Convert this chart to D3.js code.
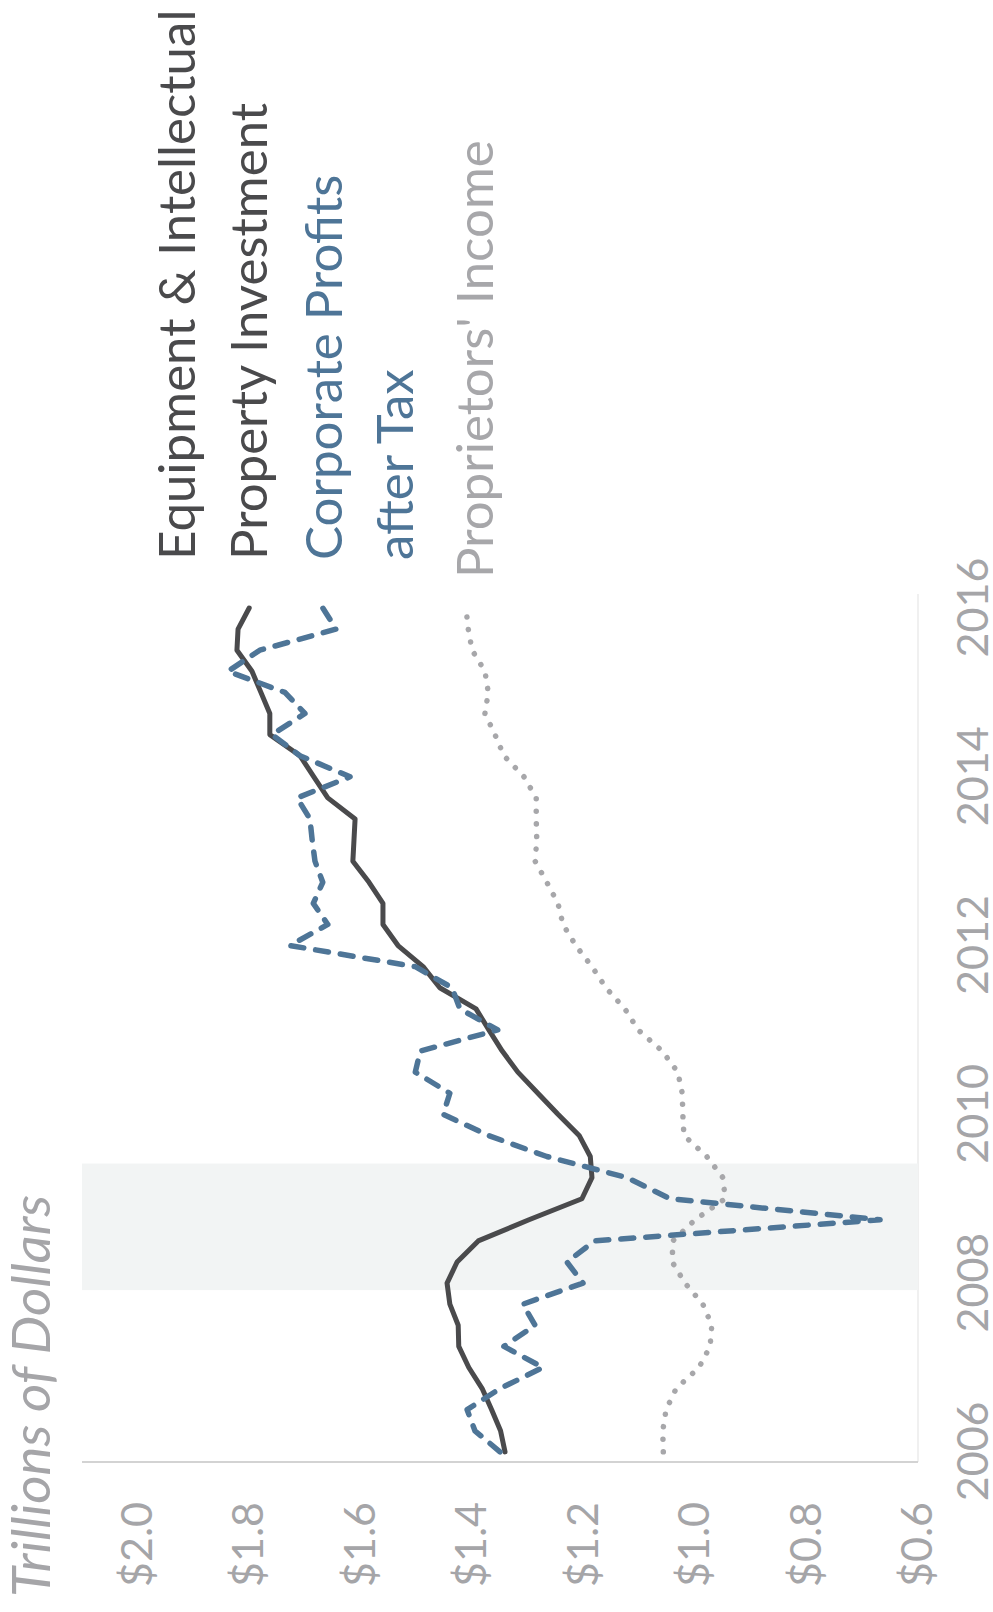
<!DOCTYPE html>
<html>
<head>
<meta charset="utf-8">
<script src="https://cdn.jsdelivr.net/npm/d3@7"></script>
<style>
  html, body { margin: 0; padding: 0; background: #ffffff; }
  svg { display: block; }
  text { font-family: Lato, "Open Sans", sans-serif; }
</style>
</head>
<body>
<script>
// Quarterly series, 2006Q1 through 2016Q1, trillions of dollars
const startYear = 2006;
const equipmentIP = [1.341, 1.349, 1.365, 1.382, 1.406, 1.424, 1.425, 1.440, 1.445, 1.427,
  1.389, 1.298, 1.203, 1.185, 1.188, 1.208, 1.246, 1.282, 1.318, 1.346,
  1.370, 1.393, 1.458, 1.488, 1.533, 1.560, 1.560, 1.585, 1.614, 1.612,
  1.610, 1.659, 1.684, 1.709, 1.763, 1.763, 1.779, 1.795, 1.822, 1.820, 1.800];
const corporateProfits = [1.350, 1.395, 1.409, 1.350, 1.273, 1.343, 1.287, 1.309, 1.201, 1.230,
  1.180, 0.668, 1.045, 1.122, 1.266, 1.371, 1.452, 1.440, 1.502, 1.493,
  1.354, 1.422, 1.436, 1.502, 1.727, 1.659, 1.685, 1.668, 1.682, 1.687,
  1.691, 1.714, 1.619, 1.709, 1.759, 1.700, 1.736, 1.838, 1.781, 1.644, 1.668];
const proprietorsIncome = [1.057, 1.058, 1.052, 1.034, 0.993, 0.973, 0.970, 0.986, 1.018, 1.041,
  1.040, 1.000, 0.946, 0.950, 0.979, 1.020, 1.022, 1.023, 1.031, 1.059,
  1.102, 1.126, 1.160, 1.185, 1.214, 1.237, 1.246, 1.266, 1.287, 1.284,
  1.285, 1.285, 1.307, 1.343, 1.359, 1.377, 1.371, 1.377, 1.400, 1.407, 1.411];

const yearTicks = [2006, 2008, 2010, 2012, 2014, 2016];
const valueTicks = [0.6, 0.8, 1.0, 1.2, 1.4, 1.6, 1.8, 2.0];
const recession = [2007.917, 2009.417];   // Dec 2007 - Jun 2009

const seriesNames = [
  ["Equipment & Intellectual", "Property Investment"],
  ["Corporate Profits", "after Tax"],
  ["Proprietors' Income"]
];

const pageW = 993, pageH = 1612;

const svg = d3.select("body").append("svg")
  .attr("width", pageW).attr("height", pageH);

// The chart is laid out in a landscape frame and turned a quarter-turn counter-clockwise.
const g = svg.append("g")
  .attr("transform", `translate(0,${pageH}) rotate(-90)`);

const x = d3.scaleLinear().domain([2005.88, 2016.166]).range([150, 1018]);
const y = d3.scaleLinear().domain([0.6, 2.1]).range([918, 82]);

const quarterOf = i => startYear + i / 4;
const toPoints = arr => arr.map((v, i) => ({ t: quarterOf(i), v }));

// plot frame lines
g.append("line")
  .attr("x1", x.range()[0]).attr("x2", x.range()[1])
  .attr("y1", y(0.6)).attr("y2", y(0.6))
  .attr("stroke", "#ebebeb").attr("stroke-width", 1.5);

// recession shading
g.append("rect")
  .attr("x", x(recession[0]))
  .attr("width", x(recession[1]) - x(recession[0]))
  .attr("y", y.range()[1])
  .attr("height", y.range()[0] - y.range()[1])
  .attr("fill", "#f2f4f4");

g.append("line")
  .attr("x1", x.range()[0]).attr("x2", x.range()[0])
  .attr("y1", y.range()[1]).attr("y2", y.range()[0])
  .attr("stroke", "#d3d3d3").attr("stroke-width", 2);

// axes
const tickColor = "#a5a5a8";
const xAxis = g.append("g")
  .attr("transform", `translate(0,${y(0.6)})`)
  .call(d3.axisBottom(x).tickValues(yearTicks).tickFormat(d3.format("d"))
    .tickSize(0).tickPadding(39));
const yAxis = g.append("g")
  .attr("transform", `translate(${x.range()[0]},0)`)
  .call(d3.axisLeft(y).tickValues(valueTicks)
    .tickFormat(d => "$" + d3.format(".1f")(d))
    .tickSize(0).tickPadding(40));
[xAxis, yAxis].forEach(a => {
  a.select(".domain").remove();
  a.selectAll("text")
    .attr("fill", tickColor)
    .style("font-family", "Lato, 'Open Sans', sans-serif")
    .style("font-size", "43px");
});

// title
g.append("text")
  .attr("x", 15).attr("y", 50)
  .attr("fill", tickColor)
  .attr("textLength", 402)
  .attr("lengthAdjust", "spacingAndGlyphs")
  .style("font-size", "52px")
  .style("font-style", "italic")
  .text("Trillions of Dollars");

// series lines
const line = d3.line().x(d => x(d.t)).y(d => y(d.v));

g.append("path")
  .datum(toPoints(proprietorsIncome))
  .attr("d", line)
  .attr("fill", "none")
  .attr("stroke", "#a7a7aa")
  .attr("stroke-width", 5.5)
  .attr("stroke-linecap", "round")
  .attr("stroke-dasharray", "0.1,12.5");

g.append("path")
  .datum(toPoints(equipmentIP))
  .attr("d", line)
  .attr("fill", "none")
  .attr("stroke", "#4a4a4c")
  .attr("stroke-width", 5)
  .attr("stroke-linejoin", "round")
  .attr("stroke-linecap", "round");

g.append("path")
  .datum(toPoints(corporateProfits))
  .attr("d", line)
  .attr("fill", "none")
  .attr("stroke", "#4e7597")
  .attr("stroke-width", 5.5)
  .attr("stroke-linecap", "round")
  .attr("stroke-linejoin", "round")
  .attr("stroke-dasharray", "13,12");

// series labels at the right end of the lines
const labelColors = ["#4a4a4c", "#4e7597", "#a7a7aa"];
const labelRows = [
  { s: 0, line: 0, x: 1052, y: 195 },
  { s: 0, line: 1, x: 1052, y: 267 },
  { s: 1, line: 0, x: 1052, y: 342 },
  { s: 1, line: 1, x: 1052, y: 413 },
  { s: 2, line: 0, x: 1034, y: 493 }
];
g.selectAll("text.series-label")
  .data(labelRows)
  .join("text")
  .attr("class", "series-label")
  .attr("x", d => d.x).attr("y", d => d.y)
  .attr("fill", d => labelColors[d.s])
  .style("font-size", "51px")
  .text(d => seriesNames[d.s][d.line]);
</script>
</body>
</html>
